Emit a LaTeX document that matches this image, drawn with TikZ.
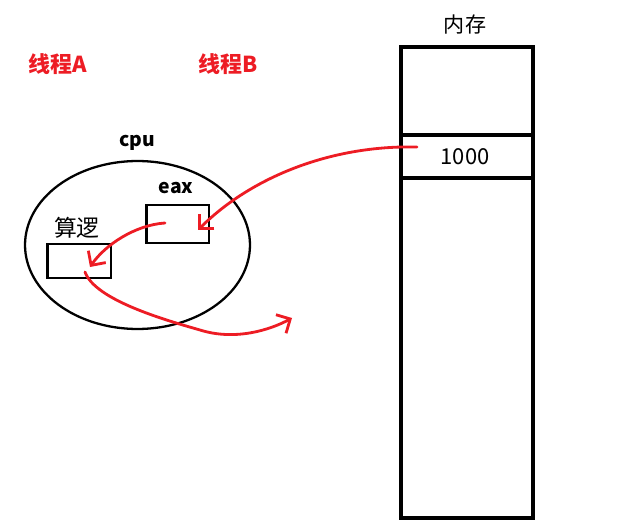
\documentclass[tikz,border=0pt]{standalone}
\usepackage{fontspec}
\setmainfont{Noto Sans CJK SC}
\usetikzlibrary{shapes.geometric,arrows.meta}
\definecolor{pred}{RGB}{237,28,36}
\tikzset{
  box/.style={draw=black, line width=1.7pt, rectangle, inner sep=0pt},
  memline/.style={draw=black, line width=2pt, rectangle, inner sep=0pt},
  redarrow/.style={draw=pred, line width=1.6pt, line cap=round, line join=round,
    -{Straight Barb[length=6pt,width=12pt,line width=1.6pt]}},
  thread/.style={text=pred, font=\bfseries\fontsize{12.5}{14}\selectfont, inner sep=0pt},
  lbl/.style={font=\fontsize{12}{14}\selectfont, inner sep=0pt},
}
\begin{document}
\begin{tikzpicture}[x=0.02cm, y=-0.02cm]
\useasboundingbox (0,0) rectangle (643,527);
% threads
\node[thread] (ta) at (58,64) {线程A};
\node[thread] (tb) at (228,64) {线程B};
% memory
\node[memline, minimum width=2.64cm, minimum height=9.42cm] (mem) at (467,282.5) {};
\node[memline, minimum width=2.64cm, minimum height=0.86cm] (cell) at (467,156.5) {};
\node[lbl, font=\fontsize{12.5}{14}\selectfont] (val) at (465,157) {1000};
\node[lbl] (memlabel) at (465,25) {内存};
% cpu
\node[draw=black, line width=1.3pt, ellipse, minimum width=4.5cm, minimum height=3.36cm, inner sep=0pt] (cpu) at (137.5,245) {};
\node[lbl, font=\bfseries\fontsize{11}{13}\selectfont] (cpulabel) at (137,143) {cpu};
\node[box, minimum width=1.26cm, minimum height=0.76cm] (eax) at (177.5,224) {};
\node[lbl, font=\bfseries\fontsize{11}{13}\selectfont] (eaxlabel) at (176,188) {eax};
\node[box, minimum width=1.28cm, minimum height=0.68cm] (alu) at (79,261) {};
\node[lbl, font=\fontsize{13}{15}\selectfont] (alulabel) at (77,228) {算逻};
% connector ends
\coordinate (s1) at (417,147);
\coordinate (t1) at (198,230);
\coordinate (s2) at (165,223);
\coordinate (t2) at (90,267);
\coordinate (s3) at (85,272);
\coordinate (m3) at (200,330);
\coordinate (t3) at (292,318);
% red arrows
\draw[redarrow] (s1) .. controls (330,145) and (250,178) .. (t1);
\draw[redarrow] (s2) .. controls (135,225) and (105,245) .. (t2);
\draw[redarrow] (s3) .. controls (95,300) and (165,320) .. (m3) .. controls (235,341) and (270,330) .. (t3);
\end{tikzpicture}
\end{document}
